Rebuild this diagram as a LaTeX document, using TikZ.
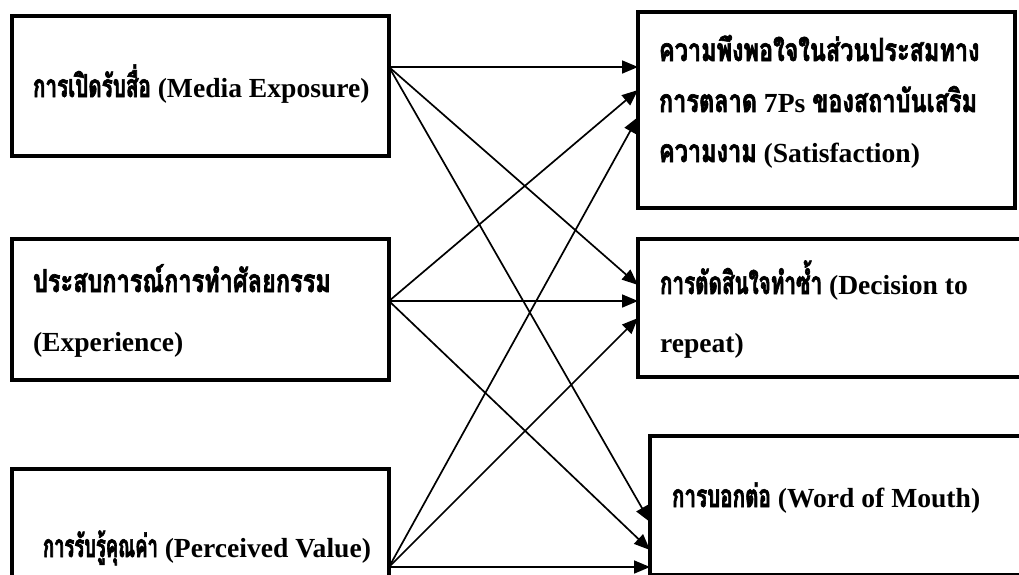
\documentclass[tikz,border=0pt]{standalone}
\usepackage{fontspec}
\setmainfont{Liberation Serif}
\newfontfamily\thaifont[Script=Thai,Scale=1.15,FakeStretch=0.65,FakeBold=2]{Loma}
\newfontfamily\thaiwidefont[Script=Thai,Scale=1.15,FakeStretch=0.74,FakeBold=2]{Loma}
\newfontfamily\thainarrowfont[Script=Thai,Scale=1.15,FakeStretch=0.58,FakeBold=2]{Loma}
\newcommand{\thaitxt}[1]{{\thaifont #1}}
\newcommand{\thaiw}[1]{{\thaiwidefont #1}}
\newcommand{\thain}[1]{{\thainarrowfont #1}}
\usetikzlibrary{arrows.meta}
\begin{document}
\begin{tikzpicture}[x=1pt,y=-1pt,
  box/.style={draw, line width=3.5pt, rectangle, inner sep=0pt, outer sep=0pt, anchor=north west},
  lbl/.style={anchor=base west, inner sep=0pt, outer sep=0pt, font=\bfseries\fontsize{27.6}{30}\selectfont},
  link/.style={line width=1.7pt, -{Triangle[length=16pt,width=13pt]}}]
\path[use as bounding box] (0,0) rectangle (1019,574);
\fill[white] (0,0) rectangle (1019,574);
\clip (0,0) rectangle (1019,574);
% boxes
\node[box, minimum width=377pt, minimum height=140pt] (l1) at (12,16) {};
\node[box, minimum width=377pt, minimum height=141pt] (l2) at (12,239) {};
\node[box, minimum width=377pt, minimum height=150pt] (l3) at (12,469) {};
\node[box, minimum width=377pt, minimum height=196pt] (r1) at (638,12) {};
\node[box, minimum width=420pt, minimum height=138pt] (r2) at (638,239) {};
\node[box, minimum width=420pt, minimum height=138.5pt] (r3) at (650,436) {};
% texts
\node[lbl] (t1) at (33,97) {\thaitxt{การเปิดรับสื่อ} (Media Exposure)};
\node[lbl] (t2a) at (33,292) {\thaiw{ประสบการณ์การทำศัลยกรรม}};
\node[lbl] (t2b) at (33,351) {(Experience)};
\node[lbl] (t3) at (43,557) {\thain{การรับรู้คุณค่า} (Perceived Value)};
\node[lbl] (s1a) at (659,61) {\thaiw{ความพึงพอใจในส่วนประสมทาง}};
\node[lbl] (s1b) at (659,112) {\thaiw{การตลาด} 7Ps \thaiw{ของสถาบันเสริม}};
\node[lbl] (s1c) at (659,162) {\thaiw{ความงาม} (Satisfaction)};
\node[lbl] (s2a) at (660,294) {\thaitxt{การตัดสินใจทำซ้ำ} (Decision to};
\node[lbl] (s2b) at (660,352) {repeat)};
\node[lbl] (s3) at (672,507) {\thaitxt{การบอกต่อ} (Word of Mouth)};
% connectors
\draw[link] ([yshift=-51pt]l1.north east) -- ([yshift=-55pt]r1.north west);
\draw[link] ([yshift=-51pt]l1.north east) -- ([yshift=-46pt]r2.north west);
\draw[link] ([yshift=-51pt]l1.north east) -- ([yshift=-86pt]r3.north west);
\draw[link] ([yshift=-62pt]l2.north east) -- ([yshift=-78pt]r1.north west);
\draw[link] ([yshift=-62pt]l2.north east) -- ([yshift=-62pt]r2.north west);
\draw[link] ([yshift=-62pt]l2.north east) -- ([yshift=-114pt]r3.north west);
\draw[link] ([yshift=-98pt]l3.north east) -- ([yshift=-105pt]r1.north west);
\draw[link] ([yshift=-98pt]l3.north east) -- ([yshift=-79pt]r2.north west);
\draw[link] ([yshift=-98pt]l3.north east) -- ([yshift=-131pt]r3.north west);
\end{tikzpicture}
\end{document}
